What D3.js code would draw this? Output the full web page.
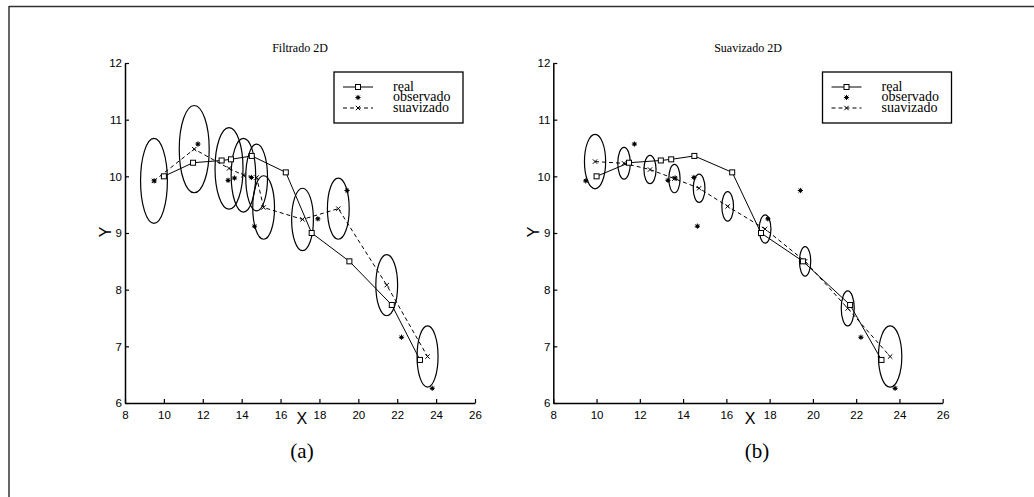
<!DOCTYPE html>
<html><head><meta charset="utf-8">
<script src="https://cdn.jsdelivr.net/npm/d3@7"></script>
<style>
body{margin:0;background:#fff;}
svg{display:block;}
</style></head>
<body>
<svg id="c" width="1034" height="497"></svg>
<script>
// ---- data ----
const xTicks = [8,10,12,14,16,18,20,22,24,26];
const yTicks = [6,7,8,9,10,11,12];
const realX = [10, 11.5, 12.97, 13.45, 14.52, 16.27, 17.6, 19.54, 21.72, 23.17];
const realY = [10.0, 10.24, 10.28, 10.3, 10.36, 10.07, 9.0, 8.5, 7.73, 6.76];
const obsX = [9.5, 11.75, 13.3, 13.63, 14.5, 14.66, 17.92, 19.42, 22.22, 23.8];
const obsY = [9.92, 10.57, 9.93, 9.97, 9.98, 9.12, 9.25, 9.75, 7.16, 6.26];
const filtX = [9.49, 11.56, 13.35, 14.09, 14.77, 15.13, 17.13, 18.97, 21.46, 23.56];
const filtY = [9.92, 10.48, 10.14, 10.02, 9.98, 9.45, 9.24, 9.43, 8.08, 6.82];
const filtSx = [0.69, 0.77, 0.72, 0.63, 0.56, 0.56, 0.56, 0.56, 0.56, 0.54];
const filtSy = [0.75, 0.77, 0.72, 0.65, 0.59, 0.56, 0.55, 0.54, 0.54, 0.54];
const smoothX = [9.93, 11.27, 12.47, 13.6, 14.74, 16.06, 17.79, 19.64, 21.61, 23.57];
const smoothY = [10.26, 10.23, 10.12, 9.96, 9.79, 9.47, 9.07, 8.5, 7.67, 6.82];
const smoothSx = [0.49, 0.29, 0.28, 0.26, 0.27, 0.27, 0.27, 0.26, 0.30, 0.54];
const smoothSy = [0.48, 0.28, 0.25, 0.25, 0.25, 0.26, 0.25, 0.26, 0.31, 0.54];
const legendLabels = ["real", "observado", "suavizado"];
const titles = ["Filtrado 2D", "Suavizado 2D"];
const subLabels = ["(a)", "(b)"];

const svg = d3.select("#c");
const serif = "'Liberation Serif','Times New Roman',serif";
const sans = "'Liberation Sans',Arial,sans-serif";

// outer frame (only top and left visible)
svg.append("line").attr("x1",9).attr("x2",1040).attr("y1",6.5).attr("y2",6.5).attr("stroke","#333").attr("stroke-width",1.5);
svg.append("line").attr("x1",9).attr("x2",9).attr("y1",6).attr("y2",500).attr("stroke","#333").attr("stroke-width",1.5);

function starPath(cx, cy){
  const r = 2.6, p = [];
  for (let i=0;i<4;i++){
    const a = i*Math.PI/4;
    p.push(`M${cx - r*Math.cos(a)},${cy - r*Math.sin(a)}L${cx + r*Math.cos(a)},${cy + r*Math.sin(a)}`);
  }
  return p.join("");
}
function crossPath(cx, cy){
  const r = 2.2;
  return `M${cx-r},${cy-r}L${cx+r},${cy+r}M${cx-r},${cy+r}L${cx+r},${cy-r}`;
}

function panel(cfg){
  const x = d3.scaleLinear().domain([8,26]).range([cfg.x0, cfg.x1]);
  const y = d3.scaleLinear().domain([6,12]).range([403, 63]);
  const g = svg.append("g");

  // axes
  const ax = g.append("g").attr("transform","translate(0,403)")
    .call(d3.axisBottom(x).tickValues(xTicks).tickFormat(d3.format("d")).tickSizeInner(-4).tickSizeOuter(0).tickPadding(8));
  const ay = g.append("g").attr("transform",`translate(${cfg.x0},0)`)
    .call(d3.axisLeft(y).tickValues(yTicks).tickFormat(d3.format("d")).tickSizeInner(-4).tickSizeOuter(0).tickPadding(3));
  [ax, ay].forEach(a => {
    a.select(".domain").attr("stroke","#000").attr("stroke-width",1.5);
    a.selectAll(".tick line").attr("stroke","#000").attr("stroke-width",1.2);
    a.selectAll(".tick text").attr("font-family",sans).attr("font-size",11.5).attr("fill","#000");
  });

  // ellipses
  g.selectAll(".ell").data(cfg.ex.map((d,i)=>i)).enter().append("ellipse")
    .attr("cx", i => x(cfg.ex[i])).attr("cy", i => y(cfg.ey[i]))
    .attr("rx", i => x(cfg.ex[i]+cfg.sx[i]) - x(cfg.ex[i]))
    .attr("ry", i => y(cfg.ey[i]) - y(cfg.ey[i]+cfg.sy[i]))
    .attr("fill","none").attr("stroke","#000").attr("stroke-width",1.2);

  const line = d3.line().x(d=>x(d[0])).y(d=>y(d[1]));
  const realPts = realX.map((v,i)=>[v, realY[i]]);
  const estPts = cfg.ex.map((v,i)=>[v, cfg.ey[i]]);

  g.append("path").attr("d", line(estPts)).attr("fill","none").attr("stroke","#000").attr("stroke-width",1).attr("stroke-dasharray","4,3");
  g.append("path").attr("d", line(realPts)).attr("fill","none").attr("stroke","#000").attr("stroke-width",1);

  g.selectAll(".cr").data(estPts).enter().append("path")
    .attr("d", d => crossPath(x(d[0]), y(d[1]))).attr("stroke","#000").attr("stroke-width",1);
  g.selectAll(".sq").data(realPts).enter().append("rect")
    .attr("x", d => x(d[0])-2.5).attr("y", d => y(d[1])-2.5).attr("width",5).attr("height",5)
    .attr("fill","#fff").attr("stroke","#000").attr("stroke-width",1);
  const obsPts = obsX.map((v,i)=>[v, obsY[i]]);
  g.selectAll(".st").data(obsPts).enter().append("g").each(function(d){
    const s = d3.select(this);
    s.append("path").attr("d", starPath(x(d[0]), y(d[1]))).attr("stroke","#000").attr("stroke-width",1);
    s.append("circle").attr("cx", x(d[0])).attr("cy", y(d[1])).attr("r",1.6).attr("fill","#000");
  });

  // title & labels
  const cx = (cfg.x0 + cfg.x1)/2;
  g.append("text").attr("x", cx).attr("y", 52).attr("text-anchor","middle")
    .attr("font-family",serif).attr("font-size",12).text(cfg.title);
  g.append("text").attr("x", x(17.1)).attr("y", 424).attr("text-anchor","middle")
    .attr("font-family",sans).attr("font-size",16).text("X");
  g.append("text").attr("transform",`translate(${cfg.x0-14},232) rotate(-90)`).attr("text-anchor","middle")
    .attr("font-family",sans).attr("font-size",16).text("Y");
  g.append("text").attr("x", cfg.subX).attr("y", 458).attr("text-anchor","middle")
    .attr("font-family",serif).attr("font-size",21).text(cfg.sub);

  // legend
  const L = g.append("g").attr("transform",`translate(${cfg.lx},72)`);
  L.append("rect").attr("x",0).attr("y",0).attr("width",129).attr("height",51)
    .attr("fill","#fff").attr("stroke","#000").attr("stroke-width",1.3);
  const rows = [15, 25.5, 36];
  L.append("line").attr("x1",9).attr("x2",39).attr("y1",rows[0]).attr("y2",rows[0]).attr("stroke","#000");
  L.append("rect").attr("x",21.5).attr("y",rows[0]-2.5).attr("width",5).attr("height",5).attr("fill","#fff").attr("stroke","#000");
  L.append("path").attr("d", starPath(24, rows[1])).attr("stroke","#000");
  L.append("circle").attr("cx",24).attr("cy",rows[1]).attr("r",1.6).attr("fill","#000");
  L.append("line").attr("x1",9).attr("x2",39).attr("y1",rows[2]).attr("y2",rows[2]).attr("stroke","#000").attr("stroke-dasharray","4,3");
  L.append("path").attr("d", crossPath(24, rows[2])).attr("stroke","#000");
  legendLabels.forEach((t,i)=>{
    L.append("text").attr("x",59).attr("y",rows[i]+3.5).attr("font-family",serif).attr("font-size",14).text(t);
  });
}

panel({x0:125, x1:475, ex:filtX, ey:filtY, sx:filtSx, sy:filtSy, title:titles[0], sub:subLabels[0], subX:302, lx:334});
panel({x0:553.3, x1:942.7, ex:smoothX, ey:smoothY, sx:smoothSx, sy:smoothSy, title:titles[1], sub:subLabels[1], subX:757, lx:822.5});
</script>
</body></html>
